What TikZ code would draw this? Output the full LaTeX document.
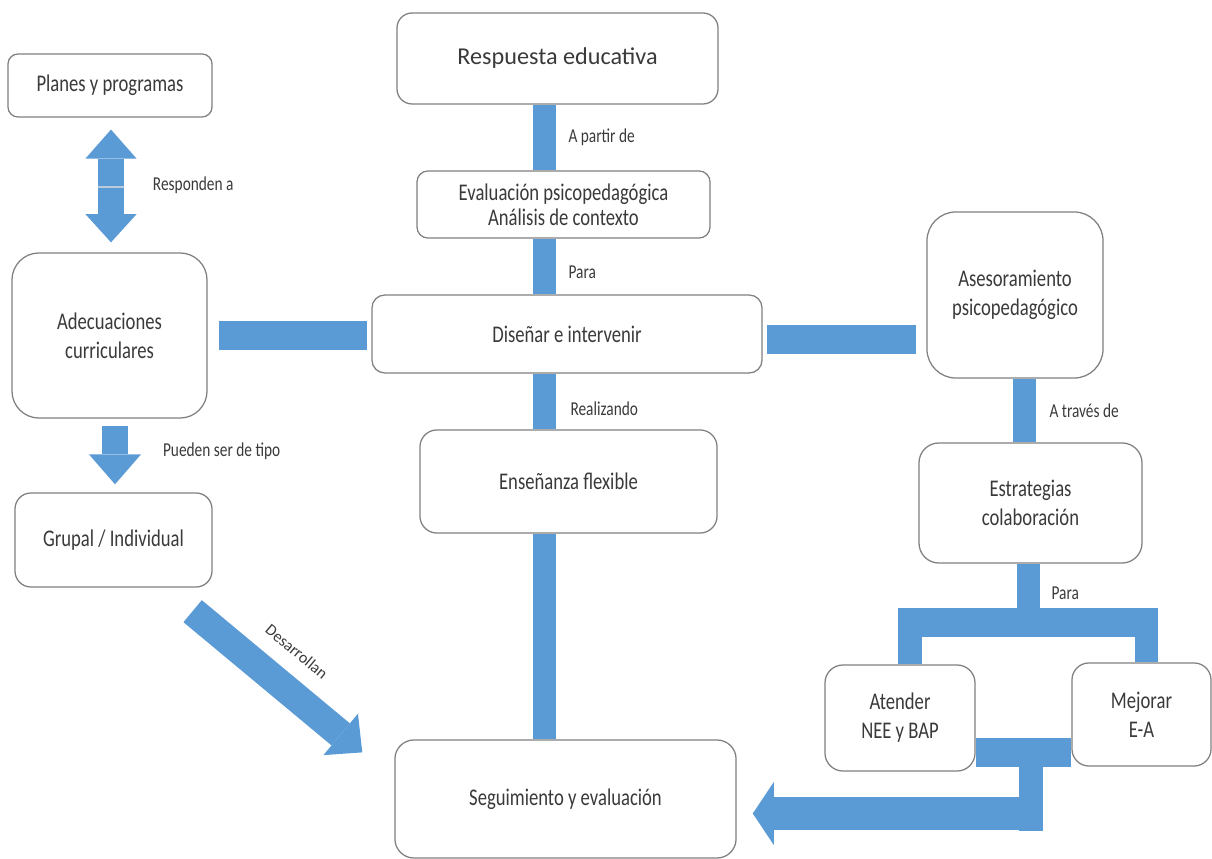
\documentclass[tikz,border=0pt]{standalone}
\usepackage{fontspec}
\setmainfont{Carlito}[FakeStretch=0.78]
\newfontfamily\titlefont{Carlito}
\usetikzlibrary{arrows.meta,calc}
\definecolor{barblue}{HTML}{5B9BD5}
\definecolor{boxgray}{HTML}{808080}
\definecolor{txtgray}{HTML}{3A3A3A}

\begin{document}
\begin{tikzpicture}[x=0.025cm,y=-0.025cm,
	box/.style={draw=boxgray, line width=0.9pt, fill=white, align=center, inner sep=0pt, text=txtgray, font=\fontsize{17}{20.5}\selectfont},
	boxsize/.style n args={3}{minimum width=#1pt, minimum height=#2pt, rounded corners=#3pt},
	lbl/.style={text=txtgray, inner sep=0pt, font=\fontsize{14}{16}\selectfont},
	vbar/.style={draw=barblue, line width=16.4pt},
	hbar/.style={draw=barblue, line width=21pt},
	leg/.style={draw=barblue, line width=17pt},
	fat/.style={draw=barblue, line width=18.5pt}]
	\useasboundingbox (0,0) rectangle (1212,859);
	
	%LEFT COLUMN
	\node[box, boxsize={145.1}{44.8}{7.1}] (plan) at (110,85.5) {Planes y programas};
	\node[box, boxsize={138.7}{117.4}{19.2}] (adec) at (109.5,335.5) {Adecuaciones\\curriculares};
	\node[box, boxsize={140.1}{66.9}{11.4}] (grup) at (113.5,540) {Grupal / Individual};
	
	%CENTRE COLUMN
	\node[box, boxsize={228.3}{64.7}{10.7}, font=\titlefont\fontsize{17.2}{20}\selectfont] (resp) at (557.5,58.5) {Respuesta educativa};
	\node[box, boxsize={208.4}{47.7}{7.8}, font=\fontsize{17}{18}\selectfont] (eval) at (563.5,204.5) {Evaluación psicopedagógica\\Análisis de contexto};
	\node[box, boxsize={277.4}{55.5}{9.2}] (dise) at (567,334) {Diseñar e intervenir};
	\node[box, boxsize={211.3}{73.3}{12.1}] (ense) at (568.5,481.5) {Enseñanza flexible};
	\node[box, boxsize={242.6}{83.9}{13.5}] (segu) at (565.5,799) {Seguimiento y evaluación};
	
	%RIGHT COLUMN
	\node[box, boxsize={125.2}{118.1}{20.6}] (ases) at (1015,295) {Asesoramiento\\psicopedagógico};
	\node[box, boxsize={158.6}{85.4}{14.2}] (estr) at (1030.5,503) {Estrategias\\colaboración};
	\node[box, boxsize={106.7}{75.4}{12.8}] (aten) at (900,718) {Atender\\NEE y BAP};
	\node[box, boxsize={98.9}{73.3}{12.1}] (mejo) at (1141.5,714.5) {Mejorar\\E-A};
	
	%CENTRE BARS
	\coordinate (spine) at (544.5,0);
	\draw[vbar] (resp.south -| spine) -- node[lbl, right=8.9pt] {A partir de} (eval.north -| spine);
	\draw[vbar] (eval.south -| spine) -- node[lbl, right=8.9pt, pos=0.6] {Para} (dise.north -| spine);
	\draw[vbar] (dise.south -| spine) -- node[lbl, right=10.3pt, pos=0.63] {Realizando} (ense.north -| spine);
	\draw[vbar] (ense.south -| spine) -- (segu.north -| spine);
	\draw[hbar, shorten <=7.8pt, shorten >=2.8pt] (adec.east) -- (adec.east -| dise.west);
	\draw[hbar] ($(dise.east)+(4,5.5)$) -- ($(dise.east -| ases.west)+(-10,5.5)$);
	
	%RIGHT BARS
	\coordinate (colR) at (1024.5,0);
	\draw[vbar] (ases.south -| colR) -- node[lbl, right=9.6pt] {A través de} (estr.north -| colR);
	\coordinate (stem) at (1028.5,622.5);
	\draw[vbar] (estr.south -| stem) -- node[lbl, right=8.2pt] {Para} (stem);
	\coordinate (forkL) at (910,622.5);
	\coordinate (forkR) at (1146.5,622.5);
	\draw[hbar, line width=20.6pt, shorten <=-8.5pt, shorten >=-8.2pt] (forkL) -- (forkR);
	\draw[leg] (forkL) -- (aten.north -| forkL);
	\draw[leg] (forkR) -- (mejo.north -| forkR);
	\coordinate (link) at (1031,752.5);
	\draw[hbar, line width=20.6pt] (aten.east |- link) -- (mejo.west |- link);
	\coordinate (elbow) at (1031,813.5);
	\draw[leg] (link) -- ($(elbow)+(0,17)$);
	\draw[draw=barblue, line width=23.5pt, -{Triangle[length=15pt,width=44.8pt,line width=0pt]}, shorten >=11.4pt] ($(elbow)+(12,0)$) -- (segu.east |- elbow);
	
	%LEFT ARROWS
	\coordinate (dblx) at (111,0);
	\draw[fat, {Triangle[length=20.6pt,width=36.3pt,line width=0pt]}-{Triangle[length=20pt,width=36.3pt,line width=0pt]}, shorten <=8.5pt, shorten >=7.1pt] (plan.south -| dblx) -- node[lbl, right=20.6pt] {Responden a} (adec.north -| dblx);
	\coordinate (dblmid) at ($(plan.south -| dblx)!0.5!(adec.north -| dblx)$);
	\draw[draw={rgb,255:red,185;green,202;blue,219}, line width=2pt] ($(dblmid)+(-13,2)$) -- ($(dblmid)+(13,2)$);
	\coordinate (downx) at (115,0);
	\draw[fat, -{Triangle[length=21.3pt,width=37pt,line width=0pt]}, shorten <=5pt, shorten >=5.7pt] (adec.south -| downx) -- node[lbl, right=24.9pt, pos=0.44] {Pueden ser de tipo} (grup.north -| downx);
	\draw[fat, line width=20.4pt, -{Triangle[length=20pt,width=38.4pt,line width=0pt]}] ($(grup.south east)+(-20,23.5)$) -- node[lbl, sloped, above=11pt, pos=0.48, font=\titlefont\fontsize{11.5}{13}\selectfont] {Desarrollan} ($(segu.north west)+(-32,13)$);
\end{tikzpicture}
\end{document}
